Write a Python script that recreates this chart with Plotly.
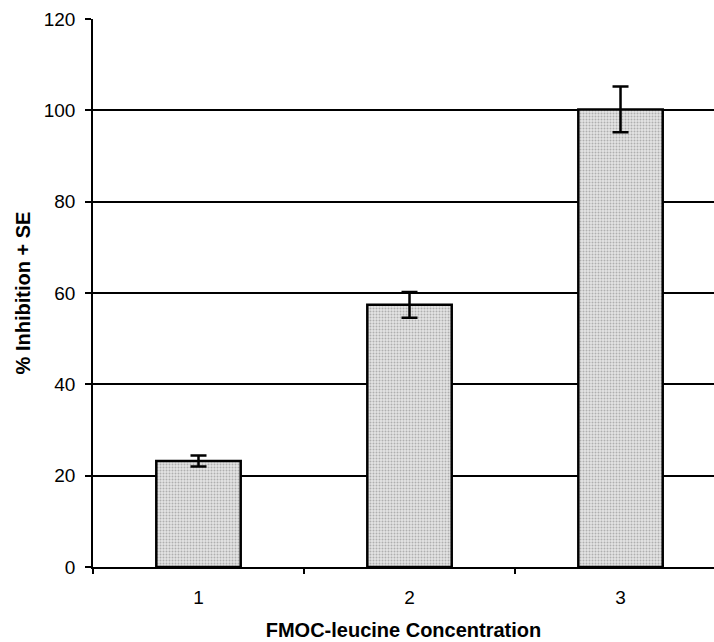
import plotly.graph_objects as go

categories = ["1", "2", "3"]
values = [23.2, 57.4, 100.2]
errors = [1.2, 2.8, 5.0]
y_ticks = [0, 20, 40, 60, 80, 100, 120]

fig = go.Figure()
fig.add_trace(go.Bar(
    x=categories, y=values,
    width=0.4,
    marker=dict(
        color="#d9d9d9",
        line=dict(color="black", width=2.5),
        pattern=dict(shape=".", fgcolor="#7a7a7a", bgcolor="#e4e4e4", size=3, solidity=0.35),
    ),
    error_y=dict(type="data", array=errors, visible=True, color="black", thickness=2.5, width=8),
))

fig.update_layout(
    width=714, height=642,
    margin=dict(l=93, r=0, t=19, b=75),
    plot_bgcolor="white", paper_bgcolor="white",
    showlegend=False,
    font=dict(family="Liberation Sans, Arial, sans-serif", color="black"),
    xaxis=dict(
        type="category", range=[-0.5, 2.443],
        tickson="boundaries", ticks="outside", ticklen=5, tickwidth=1.5, tickcolor="black",
        showgrid=False, showline=True, linecolor="black", linewidth=1.5,
        tickfont=dict(size=19), ticklabelstandoff=12,
        title=dict(text="<b>FMOC-leucine Concentration</b>", font=dict(size=20), standoff=16),
    ),
    yaxis=dict(
        range=[0, 120], tickvals=y_ticks,
        ticks="outside", ticklen=6, tickwidth=1.5, tickcolor="black",
        showgrid=True, gridcolor="black", gridwidth=1.5,
        showline=True, linecolor="black", linewidth=1.5,
        zeroline=False,
        tickfont=dict(size=19), ticklabelstandoff=6,
        title=dict(text="<b>% Inhibition + SE</b>", font=dict(size=20), standoff=8),
    ),
)

fig.write_html("out.html")
